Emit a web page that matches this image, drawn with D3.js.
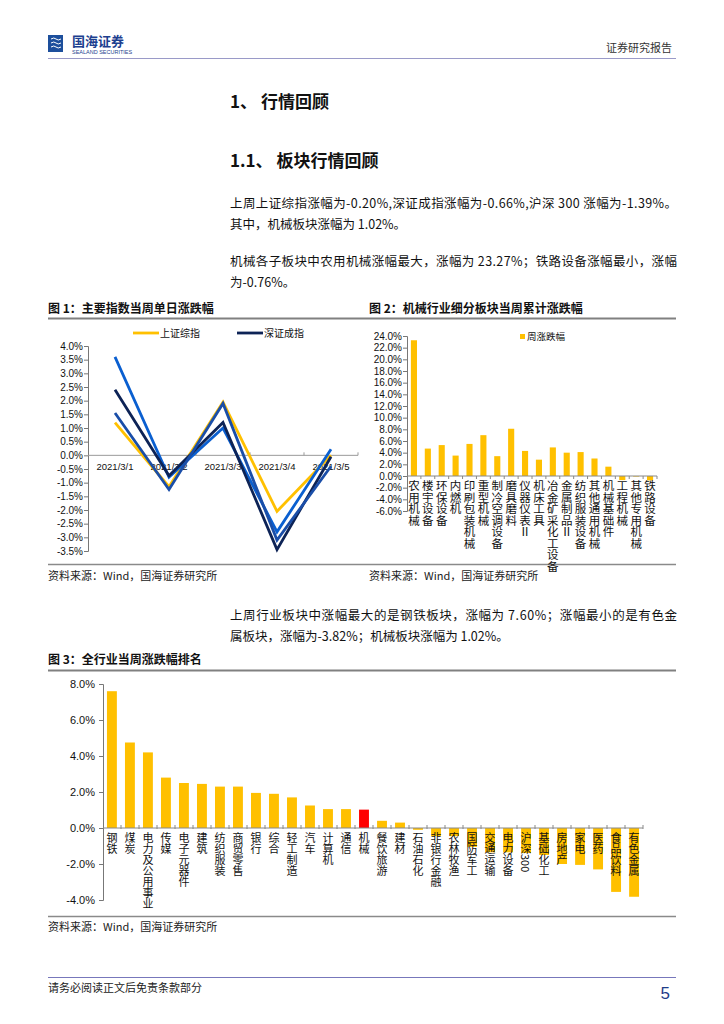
<!DOCTYPE html>
<html>
<head>
<meta charset="utf-8">
<script src="https://cdn.jsdelivr.net/npm/d3@7"></script>
<style>
  html, body { margin: 0; padding: 0; background: #fff; }
  svg text { font-family: "Liberation Sans", Arial, "Noto Sans CJK SC", sans-serif; }
  .cjk { font-family: "Noto Sans CJK SC", sans-serif; }
</style>
</head>
<body>
<div id="page"></div>
<script>
// 图1 数据
const days = ['2021/3/1', '2021/3/2', '2021/3/3', '2021/3/4', '2021/3/5'];
const shComp = [1.2, -1.15, 1.95, -2.05, 0.0];
const szComp = [2.4, -0.75, 1.2, -3.45, -0.05];
const hs300 = [1.55, -1.25, 1.9, -3.1, -0.4];
const cyb = [3.6, -0.8, 1.0, -2.8, 0.22];
const ticks1 = [4, 3.5, 3, 2.5, 2, 1.5, 1, 0.5, 0, -0.5, -1, -1.5, -2, -2.5, -3, -3.5];

// 图2 数据
const subSectors = ['农用机械', '楼宇设备', '环保设备', '内燃机', '印刷包装机械', '重型机械', '制冷空调设备',
  '磨具磨料', '仪器仪表Ⅱ', '机床工具', '冶金矿采化工设备', '金属制品Ⅱ', '纺织服装设备', '其他通用机械',
  '机械基础件', '工程机械', '其他专用机械', '铁路设备'];
const subValues = [23.27, 4.7, 5.3, 3.5, 5.5, 7.0, 3.4, 8.1, 4.3, 2.8, 4.9, 4.0, 4.1, 3.0, 1.6, -0.7, -0.1, -0.76];
const ticks2 = [24, 22, 20, 18, 16, 14, 12, 10, 8, 6, 4, 2, 0, -2, -4, -6];

// 图3 数据
const industries = ['钢铁', '煤炭', '电力及公用事业', '传媒', '电子元器件', '建筑', '纺织服装', '商贸零售', '银行',
  '综合', '轻工制造', '汽车', '计算机', '通信', '机械', '餐饮旅游', '建材', '石油石化', '非银行金融', '农林牧渔',
  '国防军工', '交通运输', '电力设备', '沪深300', '基础化工', '房地产', '家电', '医药', '食品饮料', '有色金属'];
const indValues = [7.6, 4.75, 4.2, 2.8, 2.5, 2.45, 2.3, 2.3, 1.95, 1.9, 1.7, 1.25, 1.05, 1.05, 1.02, 0.4, 0.3,
  -0.1, -0.45, -0.45, -1.05, -1.35, -1.35, -1.39, -1.5, -2.0, -2.05, -2.3, -3.55, -3.82];
const ticks3 = [8, 6, 4, 2, 0, -2, -4];

const W = 724, H = 1024;
const svg = d3.select('#page').append('svg').attr('width', W).attr('height', H);

// ---------- 页眉 ----------
const logo = svg.append('g');
logo.append('rect').attr('x', 48).attr('y', 35).attr('width', 15).attr('height', 17).attr('fill', '#1d4f9c');
[39, 43, 47].forEach(y => {
  logo.append('path').attr('d', `M51,${y} q3,-2 5,0 t5,0`).attr('stroke', '#fff').attr('stroke-width', 1).attr('fill', 'none');
});
svg.append('text').attr('class', 'cjk').attr('x', 72).attr('y', 46).attr('font-size', 13).attr('font-weight', 'bold')
  .attr('fill', '#1d3f8f').text('国海证券');
svg.append('text').attr('x', 72).attr('y', 54).attr('font-size', 5.5).attr('fill', '#1d3f8f').text('SEALAND SECURITIES');
svg.append('text').attr('class', 'cjk').attr('x', 672).attr('y', 52).attr('text-anchor', 'end').attr('font-size', 11)
  .attr('fill', '#333').text('证券研究报告');
svg.append('line').attr('x1', 48).attr('x2', 676).attr('y1', 58.5).attr('y2', 58.5).attr('stroke', '#9a9ac8').attr('stroke-width', 1.2);

// ---------- 正文 ----------
function para(x, y, txt, size, opts = {}) {
  const t = svg.append('text').attr('class', 'cjk').attr('x', x).attr('y', y).attr('font-size', size)
    .attr('fill', opts.fill || '#111').text(txt);
  if (opts.bold) t.attr('font-weight', 'bold');
  if (opts.len) t.attr('textLength', opts.len).attr('lengthAdjust', 'spacing');
  return t;
}
para(230, 108, '1、 行情回顾', 17, { bold: true });
para(230, 167, '1.1、 板块行情回顾', 17, { bold: true });
para(230, 208, '上周上证综指涨幅为-0.20%,深证成指涨幅为-0.66%,沪深 300 涨幅为-1.39%。', 12.5, { len: 447 });
para(230, 229, '其中，机械板块涨幅为 1.02%。', 12.5);
para(230, 266, '机械各子板块中农用机械涨幅最大，涨幅为 23.27%；铁路设备涨幅最小，涨幅', 12.5, { len: 447 });
para(230, 287, '为-0.76%。', 12.5);

para(48, 313, '图 1：主要指数当周单日涨跌幅', 12, { bold: true });
para(369, 313, '图 2：机械行业细分板块当周累计涨跌幅', 12, { bold: true });
svg.append('line').attr('x1', 48).attr('x2', 676).attr('y1', 318.5).attr('y2', 318.5).attr('stroke', '#808080').attr('stroke-width', 2);
svg.append('line').attr('x1', 48).attr('x2', 676).attr('y1', 564.5).attr('y2', 564.5).attr('stroke', '#8a8a8a').attr('stroke-width', 1.5);
para(48, 580, '资料来源：Wind，国海证券研究所', 11, { fill: '#222' });
para(369, 580, '资料来源：Wind，国海证券研究所', 11, { fill: '#222' });

para(230, 620, '上周行业板块中涨幅最大的是钢铁板块，涨幅为 7.60%；涨幅最小的是有色金', 12.5, { len: 447 });
para(230, 641, '属板块，涨幅为-3.82%；机械板块涨幅为 1.02%。', 12.5);

para(48, 664, '图 3：全行业当周涨跌幅排名', 12, { bold: true });
svg.append('line').attr('x1', 48).attr('x2', 676).attr('y1', 670.5).attr('y2', 670.5).attr('stroke', '#808080').attr('stroke-width', 2);
svg.append('line').attr('x1', 48).attr('x2', 676).attr('y1', 916.5).attr('y2', 916.5).attr('stroke', '#8a8a8a').attr('stroke-width', 1.5);
para(48, 931, '资料来源：Wind，国海证券研究所', 11, { fill: '#222' });

// ---------- 页脚 ----------
svg.append('line').attr('x1', 48).attr('x2', 676).attr('y1', 977.5).attr('y2', 977.5).attr('stroke', '#7777bb').attr('stroke-width', 1);
para(48, 992, '请务必阅读正文后免责条款部分', 11, { fill: '#222' });
svg.append('text').attr('x', 670).attr('y', 999).attr('text-anchor', 'end').attr('font-size', 17)
  .attr('fill', '#1f3c88').text('5');

// ---------- 图1 折线 ----------
const x1 = d3.scaleBand().domain(days).range([88, 358]);
const y1 = d3.scaleLinear().domain([-3.5, 4]).range([551, 346]);
const g1 = svg.append('g');
g1.append('g').attr('transform', 'translate(88,0)')
  .call(d3.axisLeft(y1).tickValues(ticks1).tickSize(4).tickFormat(d => d.toFixed(1) + '%'))
  .call(g => g.select('.domain').attr('stroke', '#777'))
  .call(g => g.selectAll('.tick line').attr('stroke', '#777'))
  .call(g => g.selectAll('.tick text').attr('font-size', 10).attr('fill', '#111').attr('x', -5));
g1.append('line').attr('x1', 88).attr('x2', 358).attr('y1', y1(0)).attr('y2', y1(0)).attr('stroke', '#999');
days.forEach((d, i) => {
  g1.append('line').attr('x1', x1(d) + x1.bandwidth()).attr('x2', x1(d) + x1.bandwidth())
    .attr('y1', y1(0) - 3).attr('y2', y1(0)).attr('stroke', '#999');
  g1.append('text').attr('x', x1(d) + x1.bandwidth() / 2).attr('y', y1(0) + 15).attr('text-anchor', 'middle')
    .attr('font-size', 9.5).attr('fill', '#111').text(d);
});
const lineGen = d3.line().x((d, i) => x1(days[i]) + x1.bandwidth() / 2).y(d => y1(d));
const series1 = [
  { name: '上证综指', values: shComp, color: '#ffc000' },
  { name: '创业板指', values: cyb, color: '#0a5fd0' },
  { name: '深证成指', values: szComp, color: '#0d2356' },
  { name: '沪深300', values: hs300, color: '#1a4ea8' }
];
series1.forEach(s => {
  g1.append('path').datum(s.values).attr('d', lineGen).attr('fill', 'none')
    .attr('stroke', s.color).attr('stroke-width', 2.8).attr('stroke-linejoin', 'miter');
});
[{ s: series1[0], x: 133 }, { s: series1[2], x: 237 }].forEach(l => {
  g1.append('line').attr('x1', l.x).attr('x2', l.x + 26).attr('y1', 333).attr('y2', 333)
    .attr('stroke', l.s.color).attr('stroke-width', 2.8);
  g1.append('text').attr('class', 'cjk').attr('x', l.x + 27).attr('y', 337).attr('font-size', 10)
    .attr('fill', '#111').text(l.s.name);
});

// ---------- 图2 柱状 ----------
const x2 = d3.scaleBand().domain(subSectors).range([407, 657]).paddingInner(0.56).paddingOuter(0.28);
const y2 = d3.scaleLinear().domain([-6, 24]).range([511, 336]);
const g2 = svg.append('g');
g2.append('g').attr('transform', 'translate(407,0)')
  .call(d3.axisLeft(y2).tickValues(ticks2).tickSize(4).tickFormat(d => d.toFixed(1) + '%'))
  .call(g => g.select('.domain').attr('stroke', '#777'))
  .call(g => g.selectAll('.tick line').attr('stroke', '#777'))
  .call(g => g.selectAll('.tick text').attr('font-size', 10).attr('fill', '#111').attr('x', -5));
g2.selectAll('rect.bar').data(subValues).enter().append('rect').attr('class', 'bar')
  .attr('x', (d, i) => x2(subSectors[i])).attr('width', x2.bandwidth())
  .attr('y', d => y2(Math.max(0, d))).attr('height', d => Math.abs(y2(d) - y2(0)))
  .attr('fill', '#ffc000');
g2.append('line').attr('x1', 407).attr('x2', 657).attr('y1', y2(0)).attr('y2', y2(0)).attr('stroke', '#888');
const step2 = (657 - 407) / subSectors.length;
subSectors.forEach((d, i) => {
  const bx = 407 + step2 * (i + 1);
  g2.append('line').attr('x1', bx).attr('x2', bx).attr('y1', y2(0)).attr('y2', y2(0) + 3).attr('stroke', '#888');
  g2.append('text').attr('class', 'cjk').attr('x', 407 + step2 * (i + 0.5)).attr('y', y2(0) + 4)
    .attr('font-size', 11.5).attr('fill', '#111').style('writing-mode', 'vertical-rl').text(d);
});
g2.append('rect').attr('x', 520).attr('y', 334).attr('width', 5).attr('height', 5).attr('fill', '#ffc000');
g2.append('text').attr('class', 'cjk').attr('x', 527).attr('y', 340).attr('font-size', 9.5).attr('fill', '#111').text('周涨跌幅');

// ---------- 图3 柱状 ----------
const x3 = d3.scaleBand().domain(industries).range([103, 643]).paddingInner(0.45).paddingOuter(0.22);
const y3 = d3.scaleLinear().domain([-4, 8]).range([900, 684]);
const g3 = svg.append('g');
g3.append('g').attr('transform', 'translate(103,0)')
  .call(d3.axisLeft(y3).tickValues(ticks3).tickSize(4).tickFormat(d => d.toFixed(1) + '%'))
  .call(g => g.select('.domain').attr('stroke', '#777'))
  .call(g => g.selectAll('.tick line').attr('stroke', '#777'))
  .call(g => g.selectAll('.tick text').attr('font-size', 11).attr('fill', '#111').attr('x', -8));
g3.selectAll('rect.bar').data(indValues).enter().append('rect').attr('class', 'bar')
  .attr('x', (d, i) => x3(industries[i])).attr('width', x3.bandwidth())
  .attr('y', d => y3(Math.max(0, d))).attr('height', d => Math.abs(y3(d) - y3(0)))
  .attr('fill', (d, i) => industries[i] === '机械' ? '#ff0000' : '#ffc000');
g3.append('line').attr('x1', 103).attr('x2', 643).attr('y1', y3(0)).attr('y2', y3(0)).attr('stroke', '#888');
const step3 = (643 - 103) / industries.length;
industries.forEach((d, i) => {
  const bx = 103 + step3 * (i + 1);
  g3.append('line').attr('x1', bx).attr('x2', bx).attr('y1', y3(0) - 3).attr('y2', y3(0) + 1).attr('stroke', '#888');
  g3.append('text').attr('class', 'cjk').attr('x', 103 + step3 * (i + 0.5)).attr('y', y3(0) + 4)
    .attr('font-size', 11).attr('fill', '#111').style('writing-mode', 'vertical-rl').text(d);
});
</script>
</body>
</html>
